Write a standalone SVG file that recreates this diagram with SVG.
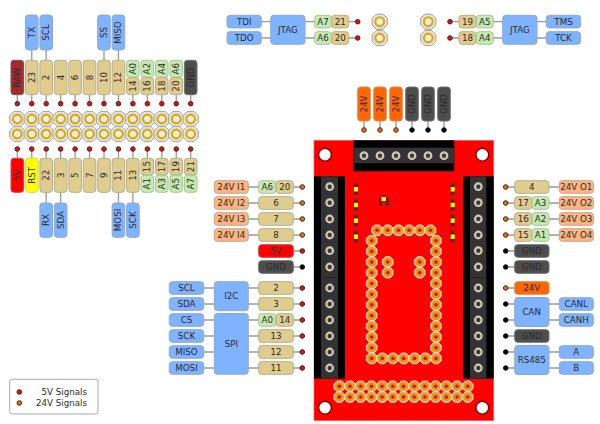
<svg xmlns="http://www.w3.org/2000/svg" width="600" height="424" viewBox="0 0 600 424">
<style>
text{font-family:"DejaVu Sans",sans-serif;font-size:8.7px;fill:#2b2b2b;text-anchor:middle;dominant-baseline:central}
rect.l{stroke-width:1;rx:3px;ry:3px}
.blue{fill:#80b3ff;stroke:#8fa8c8}
.tan{fill:#dfcd8f;stroke:#b8ad88}
.green{fill:#c6e9af;stroke:#a8c49a}
.sig{fill:#ffb380;stroke:#c8a58c}
.or{fill:#ff6600;stroke:#d98a55}
.red{fill:#ff0000;stroke:#d84040}
.yel{fill:#ffff00;stroke:#d8d840}
.raw{fill:#a02c2c;stroke:#8a4a4a}
.dk{fill:#4d4d4d;stroke:#707070}
.wire{fill:none;stroke:#999;stroke-width:1.3}
.d5{fill:#ff0000;stroke:#333;stroke-width:1}
.d24{fill:#ff6600;stroke:#333;stroke-width:1}
.dg{fill:#000;stroke:#222;stroke-width:1}
.dr{fill:#a02c2c;stroke:#333;stroke-width:1}
</style>
<defs>
<!-- through-hole pad of the loose header -->
<g id="hdr">
<polygon points="-3.3,-7.6 3.3,-7.6 7.6,-3.3 7.6,3.3 3.3,7.6 -3.3,7.6 -7.6,3.3 -7.6,-3.3" fill="#e2e2e2" stroke="#a0a0a0" stroke-width="1"/>
<circle r="4.4" fill="#ececec" stroke="#dcac00" stroke-width="2.1"/>
</g>
<!-- gold pad on the board -->
<g id="gp">
<polygon points="-2.3,-5.4 2.3,-5.4 5.4,-2.3 5.4,2.3 2.3,5.4 -2.3,5.4 -5.4,2.3 -5.4,-2.3" fill="#f0b090" stroke="#f6d4d4" stroke-width=".8"/>
<circle r="4.3" fill="#d9a000"/>
<circle r="1.8" fill="#f00000"/>
</g>
<!-- terminal screw -->
<circle id="sc" r="3.3" fill="#3a3a3a" stroke="#cfcab8" stroke-width="2.2"/>
<!-- mounting hole -->
<circle id="mh" r="6.4" fill="#fff" stroke="#7a0000" stroke-width="1.4"/>
<!-- surface-mount LED -->
<g id="led">
<rect x="-2" y="-5.5" width="4" height="11" fill="#4a2a2a"/>
<rect x="-2" y="-2.2" width="4" height="4.4" fill="#ffff00"/>
</g>
<circle id="p5" r="2.3" class="d5"/>
<circle id="p24" r="2.3" class="d24"/>
<circle id="pg" r="2.3" class="dg"/>
</defs>
<rect width="600" height="424" fill="#fff"/>

<g id="connectors">
<path class="wire" d="M31.75 50V60M46.2 50V60M104 50V60M118.45 50V60M17.3 95V104M31.75 95V104M46.2 95V104M60.65 95V104M75.1 95V104M89.55 95V104M104 95V104M118.45 95V104M132.9 95V104M147.35 95V104M161.8 95V104M176.25 95V104M190.7 95V104"/>
<path class="wire" d="M17.3 149V158M31.75 149V158M46.2 149V158M60.65 149V158M75.1 149V158M89.55 149V158M104 149V158M118.45 149V158M132.9 149V158M147.35 149V158M161.8 149V158M176.25 149V158M190.7 149V158M46.2 192V203M60.65 192V203M118.45 192V203M132.9 192V203"/>
<path class="wire" d="M261 21.7H271M261 38H271M305 21.7H315M305 38H315M349 21.7H358M349 38H358M450 21.7H459M450 38H459M493 21.7H503M493 38H503M537 21.7H546M537 38H546"/>
<path class="wire" d="M364 121V130M380 121V130M396 121V130M412 121V130M428 121V130M444 121V130"/>
<path class="wire" d="M248 187H259M248 203H259M248 219H259M248 235H259M293 187H302M293 203H302M293 219H302M293 235H302M293 251H302M293 267H302"/>
<path class="wire" d="M204 288H214M204 304H214M204 320H214M204 336H214M204 352H214M204 368H214M248 288H259M248 304H259M248 320H259M248 336H259M248 352H259M248 368H259M293 288H302M293 304H302M293 320H302M293 336H302M293 352H302M293 368H302"/>
<path class="wire" d="M506 187H515M506 203H515M506 219H515M506 235H515M506 251H515M506 267H515M506 288H515M506 304H515M506 320H515M506 336H515M506 352H515M506 368H515M549 187H559M549 203H559M549 219H559M549 235H559M549 304H559M549 320H559M549 352H559M549 368H559"/>
<use href="#p5" x="31.75" y="103.7"/><use href="#p5" x="46.2" y="103.7"/><use href="#p5" x="60.65" y="103.7"/><use href="#p5" x="75.1" y="103.7"/><use href="#p5" x="89.55" y="103.7"/><use href="#p5" x="104" y="103.7"/><use href="#p5" x="118.45" y="103.7"/><use href="#p5" x="132.9" y="103.7"/><use href="#p5" x="147.35" y="103.7"/><use href="#p5" x="161.8" y="103.7"/><use href="#p5" x="176.25" y="103.7"/><use href="#p5" x="190.7" y="103.7"/>
<circle cx="17.3" cy="103.7" r="2.3" class="dr"/>
<use href="#p5" x="17.3" y="149"/><use href="#p5" x="31.75" y="149"/><use href="#p5" x="46.2" y="149"/><use href="#p5" x="60.65" y="149"/><use href="#p5" x="75.1" y="149"/><use href="#p5" x="89.55" y="149"/><use href="#p5" x="104" y="149"/><use href="#p5" x="118.45" y="149"/><use href="#p5" x="132.9" y="149"/><use href="#p5" x="147.35" y="149"/><use href="#p5" x="161.8" y="149"/><use href="#p5" x="176.25" y="149"/><use href="#p5" x="190.7" y="149"/>
<use href="#p5" x="357.7" y="21.7"/><use href="#p5" x="357.7" y="38"/><use href="#p5" x="450" y="21.7"/><use href="#p5" x="450" y="38"/>
<use href="#p24" x="364" y="130"/><use href="#p24" x="380" y="130"/><use href="#p24" x="396" y="130"/><use href="#pg" x="412" y="130"/><use href="#pg" x="428" y="130"/><use href="#pg" x="444" y="130"/>
<use href="#p24" x="302.3" y="187"/><use href="#p24" x="302.3" y="203"/><use href="#p24" x="302.3" y="219"/><use href="#p24" x="302.3" y="235"/><use href="#p5" x="302.3" y="251"/><use href="#pg" x="302.3" y="267"/>
<use href="#p5" x="302.3" y="288"/><use href="#p5" x="302.3" y="304"/><use href="#p5" x="302.3" y="320"/><use href="#p5" x="302.3" y="336"/><use href="#p5" x="302.3" y="352"/><use href="#p5" x="302.3" y="368"/>
<use href="#p24" x="505.7" y="187"/><use href="#p24" x="505.7" y="203"/><use href="#p24" x="505.7" y="219"/><use href="#p24" x="505.7" y="235"/><use href="#pg" x="505.7" y="251"/><use href="#pg" x="505.7" y="267"/>
<use href="#p24" x="505.7" y="288"/><use href="#pg" x="505.7" y="304"/><use href="#pg" x="505.7" y="320"/><use href="#pg" x="505.7" y="336"/><use href="#pg" x="505.7" y="352"/><use href="#pg" x="505.7" y="368"/>
</g>

<!-- loose 2x13 header -->
<g id="header">
<use href="#hdr" x="17.3" y="119"/><use href="#hdr" x="31.75" y="119"/><use href="#hdr" x="46.2" y="119"/><use href="#hdr" x="60.65" y="119"/><use href="#hdr" x="75.1" y="119"/><use href="#hdr" x="89.55" y="119"/><use href="#hdr" x="104" y="119"/><use href="#hdr" x="118.45" y="119"/><use href="#hdr" x="132.9" y="119"/><use href="#hdr" x="147.35" y="119"/><use href="#hdr" x="161.8" y="119"/><use href="#hdr" x="176.25" y="119"/><use href="#hdr" x="190.7" y="119"/>
<use href="#hdr" x="17.3" y="134"/><use href="#hdr" x="31.75" y="134"/><use href="#hdr" x="46.2" y="134"/><use href="#hdr" x="60.65" y="134"/><use href="#hdr" x="75.1" y="134"/><use href="#hdr" x="89.55" y="134"/><use href="#hdr" x="104" y="134"/><use href="#hdr" x="118.45" y="134"/><use href="#hdr" x="132.9" y="134"/><use href="#hdr" x="147.35" y="134"/><use href="#hdr" x="161.8" y="134"/><use href="#hdr" x="176.25" y="134"/><use href="#hdr" x="190.7" y="134"/>
</g>

<!-- upper row of pin labels -->
<g id="t-raw"><rect class="l raw" x="11" y="60.3" width="12.6" height="34.4"/><text transform="translate(17.3 77.5) rotate(-90)">RAW</text></g>
<g id="t-23"><rect class="l tan" x="25.45" y="60.3" width="12.6" height="34.4"/><text transform="translate(31.75 77.5) rotate(-90)">23</text></g>
<g id="t-2"><rect class="l tan" x="39.9" y="60.3" width="12.6" height="34.4"/><text transform="translate(46.2 77.5) rotate(-90)">2</text></g>
<g id="t-4"><rect class="l tan" x="54.35" y="60.3" width="12.6" height="34.4"/><text transform="translate(60.65 77.5) rotate(-90)">4</text></g>
<g id="t-6"><rect class="l tan" x="68.8" y="60.3" width="12.6" height="34.4"/><text transform="translate(75.1 77.5) rotate(-90)">6</text></g>
<g id="t-8"><rect class="l tan" x="83.25" y="60.3" width="12.6" height="34.4"/><text transform="translate(89.55 77.5) rotate(-90)">8</text></g>
<g id="t-10"><rect class="l tan" x="97.7" y="60.3" width="12.6" height="34.4"/><text transform="translate(104 77.5) rotate(-90)">10</text></g>
<g id="t-12"><rect class="l tan" x="112.15" y="60.3" width="12.6" height="34.4"/><text transform="translate(118.45 77.5) rotate(-90)">12</text></g>
<g id="t-14"><rect class="l green" x="126.6" y="60.3" width="12.6" height="17"/><text transform="translate(132.9 68.8) rotate(-90)">A0</text><rect class="l tan" x="126.6" y="77.6" width="12.6" height="17.1"/><text transform="translate(132.9 86.1) rotate(-90)">14</text></g>
<g id="t-16"><rect class="l green" x="141.05" y="60.3" width="12.6" height="17"/><text transform="translate(147.35 68.8) rotate(-90)">A2</text><rect class="l tan" x="141.05" y="77.6" width="12.6" height="17.1"/><text transform="translate(147.35 86.1) rotate(-90)">16</text></g>
<g id="t-18"><rect class="l green" x="155.5" y="60.3" width="12.6" height="17"/><text transform="translate(161.8 68.8) rotate(-90)">A4</text><rect class="l tan" x="155.5" y="77.6" width="12.6" height="17.1"/><text transform="translate(161.8 86.1) rotate(-90)">18</text></g>
<g id="t-20"><rect class="l green" x="169.95" y="60.3" width="12.6" height="17"/><text transform="translate(176.25 68.8) rotate(-90)">A6</text><rect class="l tan" x="169.95" y="77.6" width="12.6" height="17.1"/><text transform="translate(176.25 86.1) rotate(-90)">20</text></g>
<g id="t-gnd"><rect class="l dk" x="184.4" y="60.3" width="12.6" height="34.4"/><text transform="translate(190.7 77.5) rotate(-90)">GND</text></g>
<g id="t-tx"><rect class="l blue" x="25.45" y="15" width="12.6" height="35"/><text transform="translate(31.75 32.5) rotate(-90)">TX</text></g>
<g id="t-scl"><rect class="l blue" x="39.9" y="15" width="12.6" height="35"/><text transform="translate(46.2 32.5) rotate(-90)">SCL</text></g>
<g id="t-ss"><rect class="l blue" x="97.7" y="15" width="12.6" height="35"/><text transform="translate(104 32.5) rotate(-90)">SS</text></g>
<g id="t-miso"><rect class="l blue" x="112.15" y="15" width="12.6" height="35"/><text transform="translate(118.45 32.5) rotate(-90)">MISO</text></g>

<!-- lower row of pin labels -->
<g id="b-5v"><rect class="l red" x="11" y="158.3" width="12.6" height="34"/><text transform="translate(17.3 175.3) rotate(-90)">5V</text></g>
<g id="b-rst"><rect class="l yel" x="25.45" y="158.3" width="12.6" height="34"/><text transform="translate(31.75 175.3) rotate(-90)">RST</text></g>
<g id="b-22"><rect class="l tan" x="39.9" y="158.3" width="12.6" height="34"/><text transform="translate(46.2 175.3) rotate(-90)">22</text></g>
<g id="b-3"><rect class="l tan" x="54.35" y="158.3" width="12.6" height="34"/><text transform="translate(60.65 175.3) rotate(-90)">3</text></g>
<g id="b-5"><rect class="l tan" x="68.8" y="158.3" width="12.6" height="34"/><text transform="translate(75.1 175.3) rotate(-90)">5</text></g>
<g id="b-7"><rect class="l tan" x="83.25" y="158.3" width="12.6" height="34"/><text transform="translate(89.55 175.3) rotate(-90)">7</text></g>
<g id="b-9"><rect class="l tan" x="97.7" y="158.3" width="12.6" height="34"/><text transform="translate(104 175.3) rotate(-90)">9</text></g>
<g id="b-11"><rect class="l tan" x="112.15" y="158.3" width="12.6" height="34"/><text transform="translate(118.45 175.3) rotate(-90)">11</text></g>
<g id="b-13"><rect class="l tan" x="126.6" y="158.3" width="12.6" height="34"/><text transform="translate(132.9 175.3) rotate(-90)">13</text></g>
<g id="b-15"><rect class="l tan" x="141.05" y="158.3" width="12.6" height="16.6"/><text transform="translate(147.35 166.6) rotate(-90)">15</text><rect class="l green" x="141.05" y="175.3" width="12.6" height="17"/><text transform="translate(147.35 183.8) rotate(-90)">A1</text></g>
<g id="b-17"><rect class="l tan" x="155.5" y="158.3" width="12.6" height="16.6"/><text transform="translate(161.8 166.6) rotate(-90)">17</text><rect class="l green" x="155.5" y="175.3" width="12.6" height="17"/><text transform="translate(161.8 183.8) rotate(-90)">A3</text></g>
<g id="b-19"><rect class="l tan" x="169.95" y="158.3" width="12.6" height="16.6"/><text transform="translate(176.25 166.6) rotate(-90)">19</text><rect class="l green" x="169.95" y="175.3" width="12.6" height="17"/><text transform="translate(176.25 183.8) rotate(-90)">A5</text></g>
<g id="b-21"><rect class="l tan" x="184.4" y="158.3" width="12.6" height="16.6"/><text transform="translate(190.7 166.6) rotate(-90)">21</text><rect class="l green" x="184.4" y="175.3" width="12.6" height="17"/><text transform="translate(190.7 183.8) rotate(-90)">A7</text></g>
<g id="b-rx"><rect class="l blue" x="39.9" y="203" width="12.6" height="34.3"/><text transform="translate(46.2 220) rotate(-90)">RX</text></g>
<g id="b-sda"><rect class="l blue" x="54.35" y="203" width="12.6" height="34.3"/><text transform="translate(60.65 220) rotate(-90)">SDA</text></g>
<g id="b-mosi"><rect class="l blue" x="112.15" y="203" width="12.6" height="34.3"/><text transform="translate(118.45 220) rotate(-90)">MOSI</text></g>
<g id="b-sck"><rect class="l blue" x="126.6" y="203" width="12.6" height="34.3"/><text transform="translate(132.9 220) rotate(-90)">SCK</text></g>

<!-- JTAG, left half -->
<g id="tdi"><rect class="l blue" x="227" y="15.3" width="34.3" height="12.6"/><text x="244.2" y="21.7">TDI</text></g>
<g id="tdo"><rect class="l blue" x="227" y="31.7" width="34.3" height="12.6"/><text x="244.2" y="38">TDO</text></g>
<g id="jtag1"><rect class="l blue" x="270.7" y="15.3" width="34.3" height="29"/><text x="287.8" y="29.8">JTAG</text></g>
<g id="a7-21"><rect class="l green" x="314.7" y="15.3" width="16.6" height="12.6"/><text x="323" y="21.7">A7</text><rect class="l tan" x="331.7" y="15.3" width="17" height="12.6"/><text x="340.2" y="21.7">21</text></g>
<g id="a6-20"><rect class="l green" x="314.7" y="31.7" width="16.6" height="12.6"/><text x="323" y="38">A6</text><rect class="l tan" x="331.7" y="31.7" width="17" height="12.6"/><text x="340.2" y="38">20</text></g>
<g id="pads-l"><use href="#hdr" x="379.7" y="21.7"/><use href="#hdr" x="379.7" y="38"/></g>

<!-- JTAG, right half -->
<g id="pads-r"><use href="#hdr" x="428.3" y="21.7"/><use href="#hdr" x="428.3" y="38"/></g>
<g id="c19-a5"><rect class="l tan" x="459" y="15.3" width="17" height="12.6"/><text x="467.5" y="21.7">19</text><rect class="l green" x="476.4" y="15.3" width="16.8" height="12.6"/><text x="484.8" y="21.7">A5</text></g>
<g id="c18-a4"><rect class="l tan" x="459" y="31.7" width="17" height="12.6"/><text x="467.5" y="38">18</text><rect class="l green" x="476.4" y="31.7" width="16.8" height="12.6"/><text x="484.8" y="38">A4</text></g>
<g id="jtag2"><rect class="l blue" x="502.7" y="15.3" width="34.3" height="29"/><text x="519.8" y="29.8">JTAG</text></g>
<g id="tms"><rect class="l blue" x="546.3" y="15.3" width="34.3" height="12.6"/><text x="563.5" y="21.7">TMS</text></g>
<g id="tck"><rect class="l blue" x="546.3" y="31.7" width="34.3" height="12.6"/><text x="563.5" y="38">TCK</text></g>

<!-- screw terminal labels above the board -->
<g id="v1"><rect class="l or" x="357.7" y="87" width="12.6" height="34"/><text transform="translate(364 104) rotate(-90)">24V</text></g>
<g id="v2"><rect class="l or" x="373.7" y="87" width="12.6" height="34"/><text transform="translate(380 104) rotate(-90)">24V</text></g>
<g id="v3"><rect class="l or" x="389.7" y="87" width="12.6" height="34"/><text transform="translate(396 104) rotate(-90)">24V</text></g>
<g id="g1"><rect class="l dk" x="405.7" y="87" width="12.6" height="34"/><text transform="translate(412 104) rotate(-90)">GND</text></g>
<g id="g2"><rect class="l dk" x="421.7" y="87" width="12.6" height="34"/><text transform="translate(428 104) rotate(-90)">GND</text></g>
<g id="g3"><rect class="l dk" x="437.7" y="87" width="12.6" height="34"/><text transform="translate(444 104) rotate(-90)">GND</text></g>

<!-- carrier board -->
<g id="board">
<rect x="314" y="140.3" width="179.7" height="280.4" fill="#ff0000" stroke="#ff6060" stroke-width=".6"/>
<rect x="353.3" y="140.3" width="101" height="31" fill="#000"/>
<rect x="353.3" y="147.7" width="101" height="15.6" fill="#333"/>
<rect x="314" y="176.3" width="31" height="202.4" fill="#000"/>
<rect x="321" y="176.3" width="17" height="202.4" fill="#333"/>
<rect x="463" y="176.3" width="30.7" height="202.4" fill="#000"/>
<rect x="470" y="176.3" width="16.3" height="202.4" fill="#333"/>
<path d="M321 277.7h17M470 277.7h16.3" stroke="#222" stroke-width=".8"/>
<use href="#mh" x="325" y="154.7"/><use href="#mh" x="482.3" y="154.7"/><use href="#mh" x="325" y="407.7"/><use href="#mh" x="482.3" y="407.7"/>
<use href="#sc" x="364" y="155.7"/><use href="#sc" x="380" y="155.7"/><use href="#sc" x="396" y="155.7"/><use href="#sc" x="412" y="155.7"/><use href="#sc" x="428" y="155.7"/><use href="#sc" x="444" y="155.7"/>
<use href="#sc" x="329.7" y="186.7"/><use href="#sc" x="329.7" y="202.7"/><use href="#sc" x="329.7" y="219"/><use href="#sc" x="329.7" y="235"/><use href="#sc" x="329.7" y="250.7"/><use href="#sc" x="329.7" y="267"/><use href="#sc" x="329.7" y="288"/><use href="#sc" x="329.7" y="304"/><use href="#sc" x="329.7" y="320"/><use href="#sc" x="329.7" y="336"/><use href="#sc" x="329.7" y="352"/><use href="#sc" x="329.7" y="368"/>
<use href="#sc" x="478.3" y="186.7"/><use href="#sc" x="478.3" y="202.7"/><use href="#sc" x="478.3" y="219"/><use href="#sc" x="478.3" y="235"/><use href="#sc" x="478.3" y="250.7"/><use href="#sc" x="478.3" y="267"/><use href="#sc" x="478.3" y="288"/><use href="#sc" x="478.3" y="304"/><use href="#sc" x="478.3" y="320"/><use href="#sc" x="478.3" y="336"/><use href="#sc" x="478.3" y="352"/><use href="#sc" x="478.3" y="368"/>
<use href="#led" x="356" y="189.3"/><use href="#led" x="356" y="205"/><use href="#led" x="356" y="220.7"/><use href="#led" x="356" y="236.7"/>
<use href="#led" x="452.7" y="189.3"/><use href="#led" x="452.7" y="205"/><use href="#led" x="452.7" y="220.7"/><use href="#led" x="452.7" y="236.7"/>
<rect x="379" y="198" width="3" height="8" fill="#4a2a2a"/><rect x="385.6" y="198" width="3" height="8" fill="#4a2a2a"/><rect x="381.5" y="197" width="4.4" height="4" fill="#ffff00"/><rect x="381.5" y="195.5" width="4.4" height="1.6" fill="#4a2a2a"/>
<use href="#gp" x="377" y="230.3"/><use href="#gp" x="387.7" y="230.3"/><use href="#gp" x="398.4" y="230.3"/><use href="#gp" x="409.1" y="230.3"/><use href="#gp" x="419.8" y="230.3"/><use href="#gp" x="430.5" y="230.3"/>
<use href="#gp" x="371.7" y="240.7"/><use href="#gp" x="371.7" y="251.4"/><use href="#gp" x="371.7" y="262.1"/><use href="#gp" x="371.7" y="272.8"/><use href="#gp" x="371.7" y="283.5"/><use href="#gp" x="371.7" y="294.2"/><use href="#gp" x="371.7" y="304.9"/><use href="#gp" x="371.7" y="315.6"/><use href="#gp" x="371.7" y="326.3"/><use href="#gp" x="371.7" y="337"/><use href="#gp" x="371.7" y="347.7"/><use href="#gp" x="371.7" y="358.4"/>
<use href="#gp" x="436" y="240.7"/><use href="#gp" x="436" y="251.4"/><use href="#gp" x="436" y="262.1"/><use href="#gp" x="436" y="272.8"/><use href="#gp" x="436" y="283.5"/><use href="#gp" x="436" y="294.2"/><use href="#gp" x="436" y="304.9"/><use href="#gp" x="436" y="315.6"/><use href="#gp" x="436" y="326.3"/><use href="#gp" x="436" y="337"/><use href="#gp" x="436" y="347.7"/><use href="#gp" x="436" y="358.4"/>
<use href="#gp" x="382.3" y="358.4"/><use href="#gp" x="393" y="358.4"/><use href="#gp" x="403.7" y="358.4"/><use href="#gp" x="414.5" y="358.4"/><use href="#gp" x="425.3" y="358.4"/>
<use href="#gp" x="387.7" y="262"/><use href="#gp" x="387.7" y="272.7"/><use href="#gp" x="419.7" y="262"/><use href="#gp" x="419.7" y="272.7"/>
<use href="#gp" x="339.3" y="386.3"/><use href="#gp" x="350" y="386.3"/><use href="#gp" x="360.7" y="386.3"/><use href="#gp" x="371.4" y="386.3"/><use href="#gp" x="382.1" y="386.3"/><use href="#gp" x="392.8" y="386.3"/><use href="#gp" x="403.5" y="386.3"/><use href="#gp" x="414.2" y="386.3"/><use href="#gp" x="424.9" y="386.3"/><use href="#gp" x="435.6" y="386.3"/><use href="#gp" x="446.3" y="386.3"/><use href="#gp" x="457" y="386.3"/><use href="#gp" x="467.7" y="386.3"/>
<use href="#gp" x="339.3" y="397"/><use href="#gp" x="350" y="397"/><use href="#gp" x="360.7" y="397"/><use href="#gp" x="371.4" y="397"/><use href="#gp" x="382.1" y="397"/><use href="#gp" x="392.8" y="397"/><use href="#gp" x="403.5" y="397"/><use href="#gp" x="414.2" y="397"/><use href="#gp" x="424.9" y="397"/><use href="#gp" x="435.6" y="397"/><use href="#gp" x="446.3" y="397"/><use href="#gp" x="457" y="397"/><use href="#gp" x="467.7" y="397"/>
</g>

<!-- left side of the board -->
<g id="i1"><rect class="l sig" x="214.3" y="180.7" width="34" height="12.6"/><text x="231.3" y="187">24V I1</text></g>
<g id="i2"><rect class="l sig" x="214.3" y="196.7" width="34" height="12.6"/><text x="231.3" y="203">24V I2</text></g>
<g id="i3"><rect class="l sig" x="214.3" y="212.7" width="34" height="12.6"/><text x="231.3" y="219">24V I3</text></g>
<g id="i4"><rect class="l sig" x="214.3" y="228.7" width="34" height="12.6"/><text x="231.3" y="235">24V I4</text></g>
<g id="l-a6"><rect class="l green" x="258.7" y="180.7" width="17" height="12.6"/><text x="267.2" y="187">A6</text><rect class="l tan" x="276.1" y="180.7" width="17.2" height="12.6"/><text x="284.7" y="187">20</text></g>
<g id="l-6"><rect class="l tan" x="258.7" y="196.7" width="34.6" height="12.6"/><text x="276" y="203">6</text></g>
<g id="l-7"><rect class="l tan" x="258.7" y="212.7" width="34.6" height="12.6"/><text x="276" y="219">7</text></g>
<g id="l-8"><rect class="l tan" x="258.7" y="228.7" width="34.6" height="12.6"/><text x="276" y="235">8</text></g>
<g id="l-5v"><rect class="l red" x="258.7" y="244.7" width="34.6" height="12.6"/><text x="276" y="251">5V</text></g>
<g id="l-gnd"><rect class="l dk" x="258.7" y="260.7" width="34.6" height="12.6"/><text x="276" y="267">GND</text></g>
<g id="l-scl"><rect class="l blue" x="169.3" y="281.7" width="34.4" height="12.6"/><text x="186.5" y="288">SCL</text></g>
<g id="l-sda"><rect class="l blue" x="169.3" y="297.7" width="34.4" height="12.6"/><text x="186.5" y="304">SDA</text></g>
<g id="l-cs"><rect class="l blue" x="169.3" y="313.7" width="34.4" height="12.6"/><text x="186.5" y="320">CS</text></g>
<g id="l-sck"><rect class="l blue" x="169.3" y="329.7" width="34.4" height="12.6"/><text x="186.5" y="336">SCK</text></g>
<g id="l-miso"><rect class="l blue" x="169.3" y="345.7" width="34.4" height="12.6"/><text x="186.5" y="352">MISO</text></g>
<g id="l-mosi"><rect class="l blue" x="169.3" y="361.7" width="34.4" height="12.6"/><text x="186.5" y="368">MOSI</text></g>
<g id="i2c"><rect class="l blue" x="214.3" y="281.7" width="34" height="29"/><text x="231.3" y="296">I2C</text></g>
<g id="spi"><rect class="l blue" x="214.3" y="313.5" width="34" height="60.7"/><text x="231.3" y="344">SPI</text></g>
<g id="l-2"><rect class="l tan" x="258.7" y="281.7" width="34.6" height="12.6"/><text x="276" y="288">2</text></g>
<g id="l-3"><rect class="l tan" x="258.7" y="297.7" width="34.6" height="12.6"/><text x="276" y="304">3</text></g>
<g id="l-a0"><rect class="l green" x="258.7" y="313.7" width="17" height="12.6"/><text x="267.2" y="320">A0</text><rect class="l tan" x="276.1" y="313.7" width="17.2" height="12.6"/><text x="284.7" y="320">14</text></g>
<g id="l-13"><rect class="l tan" x="258.7" y="329.7" width="34.6" height="12.6"/><text x="276" y="336">13</text></g>
<g id="l-12"><rect class="l tan" x="258.7" y="345.7" width="34.6" height="12.6"/><text x="276" y="352">12</text></g>
<g id="l-11"><rect class="l tan" x="258.7" y="361.7" width="34.6" height="12.6"/><text x="276" y="368">11</text></g>

<!-- right side of the board -->
<g id="r-4"><rect class="l tan" x="514.7" y="180.7" width="34.3" height="12.6"/><text x="531.8" y="187">4</text></g>
<g id="r-17"><rect class="l tan" x="514.7" y="196.7" width="17" height="12.6"/><text x="523.2" y="203">17</text><rect class="l green" x="532" y="196.7" width="17" height="12.6"/><text x="540.5" y="203">A3</text></g>
<g id="r-16"><rect class="l tan" x="514.7" y="212.7" width="17" height="12.6"/><text x="523.2" y="219">16</text><rect class="l green" x="532" y="212.7" width="17" height="12.6"/><text x="540.5" y="219">A2</text></g>
<g id="r-15"><rect class="l tan" x="514.7" y="228.7" width="17" height="12.6"/><text x="523.2" y="235">15</text><rect class="l green" x="532" y="228.7" width="17" height="12.6"/><text x="540.5" y="235">A1</text></g>
<g id="o1"><rect class="l sig" x="559.3" y="180.7" width="34" height="12.6"/><text x="576.3" y="187">24V O1</text></g>
<g id="o2"><rect class="l sig" x="559.3" y="196.7" width="34" height="12.6"/><text x="576.3" y="203">24V O2</text></g>
<g id="o3"><rect class="l sig" x="559.3" y="212.7" width="34" height="12.6"/><text x="576.3" y="219">24V O3</text></g>
<g id="o4"><rect class="l sig" x="559.3" y="228.7" width="34" height="12.6"/><text x="576.3" y="235">24V O4</text></g>
<g id="r-g1"><rect class="l dk" x="514.7" y="244.7" width="34.3" height="12.6"/><text x="531.8" y="251">GND</text></g>
<g id="r-g2"><rect class="l dk" x="514.7" y="260.7" width="34.3" height="12.6"/><text x="531.8" y="267">GND</text></g>
<g id="r-24"><rect class="l or" x="514.7" y="281.7" width="34.3" height="12.6"/><text x="531.8" y="288">24V</text></g>
<g id="can"><rect class="l blue" x="514.7" y="297.5" width="34.3" height="29"/><text x="531.8" y="312">CAN</text></g>
<g id="canl"><rect class="l blue" x="559.3" y="297.7" width="34" height="12.6"/><text x="576.3" y="304">CANL</text></g>
<g id="canh"><rect class="l blue" x="559.3" y="313.7" width="34" height="12.6"/><text x="576.3" y="320">CANH</text></g>
<g id="r-g3"><rect class="l dk" x="514.7" y="329.7" width="34.3" height="12.6"/><text x="531.8" y="336">GND</text></g>
<g id="rs485"><rect class="l blue" x="514.7" y="345.5" width="34.3" height="29"/><text x="531.8" y="360">RS485</text></g>
<g id="r-a"><rect class="l blue" x="559.3" y="345.7" width="34" height="12.6"/><text x="576.3" y="352">A</text></g>
<g id="r-b"><rect class="l blue" x="559.3" y="361.7" width="34" height="12.6"/><text x="576.3" y="368">B</text></g>

<!-- signal key -->
<g id="legend">
<rect x="9.7" y="379.3" width="88.3" height="34.7" rx="2.5" fill="#fff" stroke="#aaa" stroke-width="1"/>
<use href="#p5" x="19.3" y="392"/><use href="#p24" x="19.3" y="403"/>
<text x="87" y="392" style="text-anchor:end">5V Signals</text>
<text x="87" y="403" style="text-anchor:end">24V Signals</text>
</g>
</svg>
